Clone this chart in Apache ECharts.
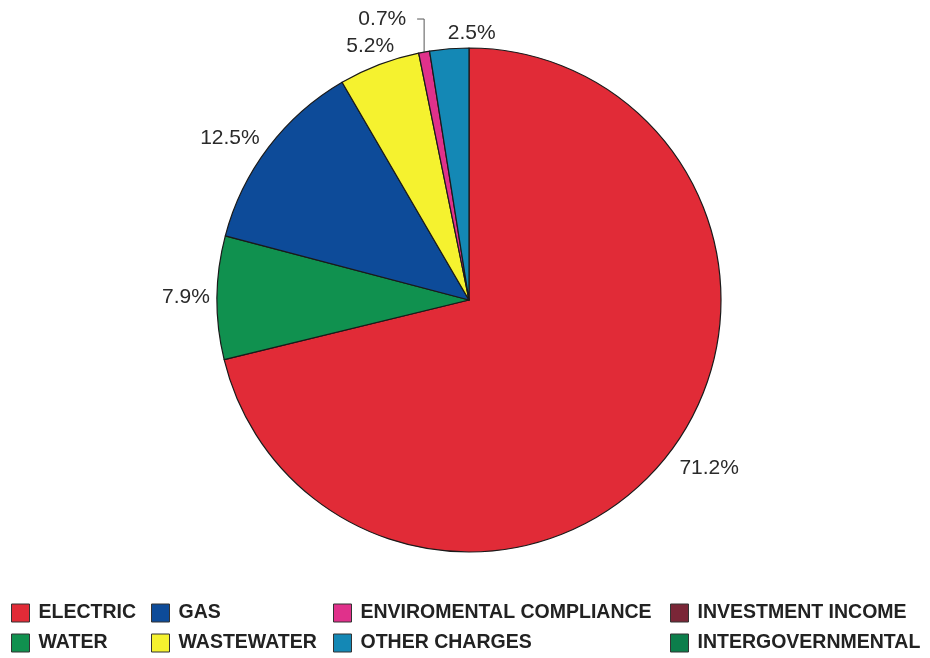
<!DOCTYPE html>
<html>
<head>
<meta charset="utf-8">
<script src="https://cdn.jsdelivr.net/npm/echarts@6.0.0/dist/echarts.min.js"></script>
<style>
  html, body { margin: 0; padding: 0; background: #fff; }
  #pieChart { width: 930px; height: 658px; }
</style>
</head>
<body>
<div id="pieChart"></div>
<script>
	// revenue shares (%), clockwise from 12 o'clock
	var categories = ['ELECTRIC', 'WATER', 'GAS', 'WASTEWATER', 'ENVIROMENTAL COMPLIANCE', 'OTHER CHARGES', 'INVESTMENT INCOME', 'INTERGOVERNMENTAL'];
	var shares = [71.2, 7.9, 12.5, 5.2, 0.7, 2.5, 0, 0];
	var colors = ['#e12b37', '#10914f', '#0d4b99', '#f5f22f', '#e0318b', '#1488b5', '#7a2637', '#0c7e4b'];

	// legend columns, as in the printed report
	var legendCols = [
		['ELECTRIC', 'WATER'],
		['GAS', 'WASTEWATER'],
		['ENVIROMENTAL COMPLIANCE', 'OTHER CHARGES'],
		['INVESTMENT INCOME', 'INTERGOVERNMENTAL']
	];
	var legendLeft = [11, 151, 333, 670];
	var legendTop = [603, 633];

	var cx = 469, cy = 300, r = 252;
	var labelGap = 7;
	// small hand nudges so labels sit where the report put them
	var labelNudge = { 0: [13, -10], 2: [-9, 13], 3: [0, 5], 5: [24, 4] };

	var total = 0;
	for (var i = 0; i < shares.length; i++) total += shares[i];
	var midAngles = [];
	var cum = 0;
	for (var i = 0; i < shares.length; i++) {
		midAngles.push((cum + shares[i] / 2) / total * Math.PI * 2);
		cum += shares[i];
	}

	var pieData = [];
	for (var i = 0; i < categories.length; i++) {
		var item = {
			name: categories[i],
			value: shares[i],
			itemStyle: { color: colors[i] },
			labelLine: { show: false }
		};
		if (shares[i] == 0) {
			item.label = { show: false };
			item.itemStyle.borderWidth = 0;
		}
		if (categories[i] == 'ENVIROMENTAL COMPLIANCE') {
			item.labelLine = { show: true, length: 33, length2: 7, lineStyle: { color: '#555', width: 1 } };
		}
		pieData.push(item);
	}

	var legends = [];
	for (var c = 0; c < legendCols.length; c++) {
		for (var row = 0; row < legendCols[c].length; row++) {
			legends.push({
				left: legendLeft[c],
				top: legendTop[row],
				padding: 0,
				itemWidth: 18,
				itemHeight: 18,
				icon: 'rect',
				selectedMode: false,
				data: [legendCols[c][row]],
				itemStyle: { borderColor: '#333', borderWidth: 1 },
				textStyle: {
					fontFamily: 'Liberation Sans, Arial, sans-serif',
					fontWeight: 'bold',
					fontSize: 19.5,
					color: '#222',
					padding: [0, 0, 0, 4]
				}
			});
		}
	}

	var myChart = echarts.init(document.getElementById('pieChart'));
	var option = {
		backgroundColor: '#fff',
		animation: false,
		legend: legends,
		series: [
			{
				name: 'Revenue',
				type: 'pie',
				center: [cx, cy],
				radius: r,
				startAngle: 90,
				clockwise: true,
				data: pieData,
				itemStyle: { borderColor: '#1a1a1a', borderWidth: 1.2 },
				label: {
					show: true,
					position: 'outside',
					fontFamily: 'Liberation Sans, Arial, sans-serif',
					fontSize: 21,
					color: '#2a2a2a',
					formatter: function (p) { return p.value.toFixed(1) + '%'; }
				},
				labelLayout: function (params) {
					var idx = params.dataIndex;
					if (categories[idx] == 'ENVIROMENTAL COMPLIANCE') {
						var pts = params.labelLinePoints;
						if (!pts) return {};
						var p0 = pts[0];
						return {
							labelLinePoints: [[p0[0], p0[1]], [p0[0], p0[1] - 33], [p0[0] - 7, p0[1] - 33]]
						};
					}
					var a = midAngles[idx];
					var dx = Math.sin(a), dy = -Math.cos(a);
					var w = params.labelRect.width, h = params.labelRect.height;
					var half = Math.abs(dx) * w / 2 + Math.abs(dy) * h / 2;
					var d = r + labelGap + half;
					var n = labelNudge[idx] || [0, 0];
					return {
						x: cx + dx * d + n[0],
						y: cy + dy * d + n[1],
						align: 'center',
						verticalAlign: 'middle'
					};
				}
			}
		]
	};
	myChart.setOption(option);
</script>
</body>
</html>
